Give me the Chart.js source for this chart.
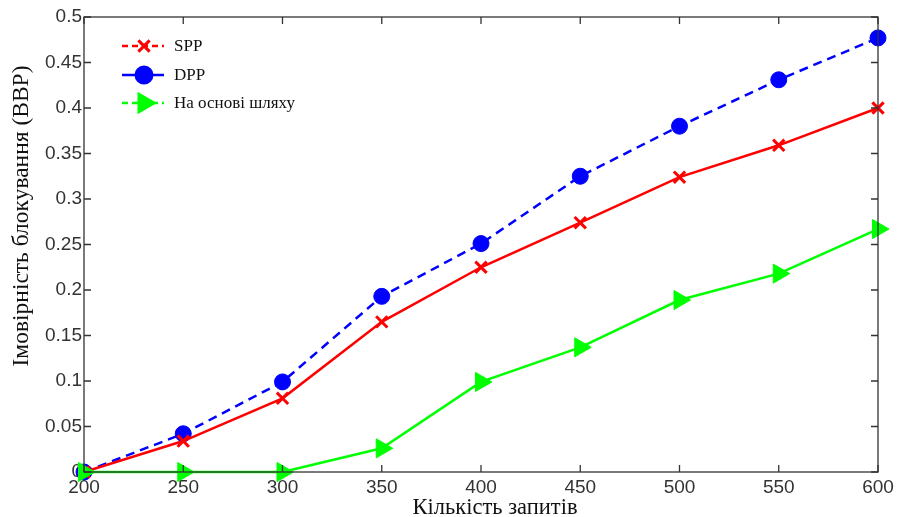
<!DOCTYPE html>
<html>
<head>
<meta charset="utf-8">
<script src="https://cdn.jsdelivr.net/npm/chart.js@4/dist/chart.umd.min.js"></script>
<style>
  html, body { margin: 0; padding: 0; background: #fff; }
  #wrap { width: 899px; height: 517px; }
</style>
</head>
<body>
<div id="wrap"><canvas id="c" width="899" height="517"></canvas></div>
<script>
// Number of requests on the x axis
const requests = [200, 250, 300, 350, 400, 450, 500, 550, 600];
// Blocking probability per routing scheme
const spp = [0, 0.034, 0.081, 0.165, 0.225, 0.274, 0.324, 0.359, 0.400];
const dpp = [0, 0.042, 0.099, 0.193, 0.251, 0.325, 0.380, 0.431, 0.477];
const pathBased = [0, 0, 0, 0.026, 0.099, 0.137, 0.189, 0.218, 0.267];
const seriesNames = ['SPP', 'DPP', 'На основі шляху'];
const xTitle = 'Кількість запитів';
const yTitle = 'Імовірність блокування (ВВР)';

const tickFont = { family: '"Liberation Sans", Arial, sans-serif', size: 19 };
const serif = '"Liberation Serif", "Times New Roman", serif';
const tickColor = '#333';
const frameColor = '#333';

function pts(ys) { return requests.map((x, i) => ({ x, y: ys[i] })); }

// Box around the plot with MATLAB-style inward ticks on all four sides
const framePlugin = {
  id: 'frame',
  afterDatasetsDraw(chart) {
    const { ctx, chartArea: a, scales } = chart;
    ctx.save();
    ctx.strokeStyle = frameColor;
    ctx.lineWidth = 1.3;
    ctx.strokeRect(a.left, a.top, a.right - a.left, a.bottom - a.top);
    const L = 7;
    ctx.beginPath();
    scales.x.ticks.forEach(t => {
      const px = scales.x.getPixelForValue(t.value);
      ctx.moveTo(px, a.bottom); ctx.lineTo(px, a.bottom - L);
      ctx.moveTo(px, a.top); ctx.lineTo(px, a.top + L);
    });
    scales.y.ticks.forEach(t => {
      const py = scales.y.getPixelForValue(t.value);
      ctx.moveTo(a.left, py); ctx.lineTo(a.left + L, py);
      ctx.moveTo(a.right, py); ctx.lineTo(a.right - L, py);
    });
    ctx.stroke();
    ctx.restore();
  }
};

// Axis titles in a serif face
const axisTitlesPlugin = {
  id: 'axisTitles',
  afterDraw(chart) {
    const { ctx } = chart;
    ctx.save();
    ctx.fillStyle = '#111';
    ctx.textAlign = 'center';
    ctx.textBaseline = 'middle';
    ctx.font = '22.5px ' + serif;
    ctx.fillText(xTitle, 495, 508);
    ctx.translate(22, 216);
    ctx.rotate(-Math.PI / 2);
    ctx.font = '23.5px ' + serif;
    ctx.fillText(yTitle, 0, 0);
    ctx.restore();
  }
};

// Legend box in the upper-left corner, drawn with its own line styles
const legendStyles = [
  { color: '#ff0000', dash: [6, 4], marker: 'crossRot', r: 8 },
  { color: '#0000ff', dash: [], marker: 'circle', r: 8 },
  { color: '#00ff00', dash: [6, 4], marker: 'triangle', r: 10, rot: 90 }
];
const legendPlugin = {
  id: 'customLegend',
  afterDraw(chart) {
    const { ctx } = chart;
    const x0 = 122, x1 = 164, xm = 144, xt = 174;
    const ys = [46, 75, 103];
    ctx.save();
    seriesNames.forEach((name, i) => {
      const s = legendStyles[i];
      const y = ys[i];
      ctx.strokeStyle = s.color;
      ctx.lineWidth = 2.5;
      ctx.setLineDash(s.dash);
      ctx.beginPath(); ctx.moveTo(x0, y); ctx.lineTo(x1, y); ctx.stroke();
      ctx.setLineDash([]);
      ctx.fillStyle = s.color;
      ctx.lineWidth = 3;
      Chart.helpers.drawPoint(ctx, { pointStyle: s.marker, radius: s.r, rotation: s.rot || 0, borderWidth: 3 }, xm, y);
      if (s.marker !== 'crossRot') ctx.fill();
      ctx.fillStyle = '#111';
      ctx.font = '17px ' + serif;
      ctx.textBaseline = 'middle';
      ctx.textAlign = 'left';
      ctx.fillText(name, xt, y + 1);
    });
    ctx.restore();
  }
};

new Chart(document.getElementById('c'), {
  type: 'line',
  data: {
    datasets: [
      {
        label: seriesNames[0], data: pts(spp), order: 1,
        borderColor: '#ff0000', backgroundColor: '#ff0000', borderWidth: 2.5,
        pointStyle: 'crossRot', pointRadius: 8, pointBorderWidth: 3,
        pointBorderColor: '#ff0000', clip: false, tension: 0
      },
      {
        label: seriesNames[1], data: pts(dpp), order: 2,
        borderColor: '#0000ff', backgroundColor: '#0000ff', borderWidth: 2.5,
        borderDash: [9, 6],
        pointStyle: 'circle', pointRadius: 8, pointBorderWidth: 1,
        pointBackgroundColor: '#0000ff', pointBorderColor: '#0000ff', clip: false, tension: 0
      },
      {
        label: seriesNames[2], data: pts(pathBased), order: 0,
        borderColor: '#00ff00', backgroundColor: '#00ff00', borderWidth: 2.5,
        pointStyle: 'triangle', rotation: 90, pointRadius: 11, pointBorderWidth: 1,
        pointBackgroundColor: '#00ff00', pointBorderColor: '#00ff00', clip: false, tension: 0
      }
    ]
  },
  options: {
    responsive: false,
    animation: false,
    layout: { padding: { left: 0, right: 21, top: 17, bottom: 0 } },
    plugins: { legend: { display: false }, tooltip: { enabled: false } },
    scales: {
      x: {
        type: 'linear', min: 200, max: 600,
        ticks: { stepSize: 50, font: tickFont, color: tickColor, padding: 4, maxRotation: 0 },
        grid: { display: false, drawTicks: false },
        border: { display: false },
        afterFit(s) { s.height = 45; }
      },
      y: {
        type: 'linear', min: 0, max: 0.5,
        ticks: { stepSize: 0.05, font: tickFont, color: tickColor, padding: 2,
                 callback: v => String(Math.round(v * 100) / 100) },
        grid: { display: false, drawTicks: false },
        border: { display: false },
        afterFit(s) { s.width = 84; }
      }
    }
  },
  plugins: [framePlugin, axisTitlesPlugin, legendPlugin]
});
</script>
</body>
</html>
